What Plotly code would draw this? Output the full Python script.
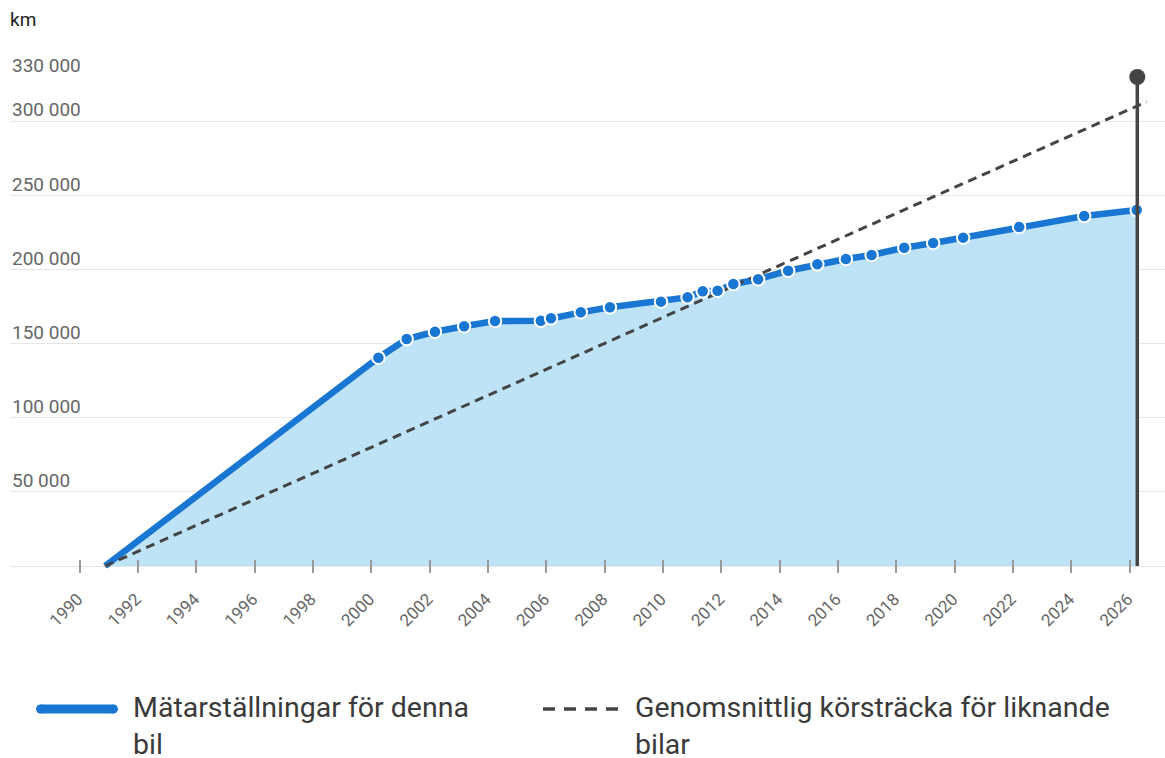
import plotly.graph_objects as go

# ---------------- data ----------------
reading_years = [1990.87, 2000.24, 2001.21, 2002.18, 2003.18, 2004.24, 2005.81, 2006.16,
                 2007.18, 2008.18, 2009.93, 2010.84, 2011.36, 2011.87, 2012.41, 2013.26,
                 2014.29, 2015.29, 2016.27, 2017.15, 2018.27, 2019.26, 2020.29, 2022.21,
                 2024.44, 2026.24]
reading_km = [0, 140600, 153200, 158100, 161800, 165300, 165500, 167200,
              171200, 174600, 178400, 181300, 185400, 185800, 190300, 193500,
              199300, 203600, 207200, 209900, 214800, 218000, 221600, 228800,
              236200, 240200]

avg_years = [1990.87, 2026.58]
avg_km = [0, 313300]

today_year = 2026.26
axis_max_km = 330000

x_tickvals = list(range(1990, 2027, 2))
x_ticktext = [str(v) for v in x_tickvals]
y_tickvals = [0, 50000, 100000, 150000, 200000, 250000, 300000, 330000]
y_ticktext = ["", "50 000", "100 000", "150 000", "200 000", "250 000", "300 000", "330 000"]

legend_names = ["Mätarställningar för denna<br>bil", "Genomsnittlig körsträcka för liknande<br>bilar"]
unit_label = "km"

# ---------------- layout helpers ----------------
W, H = 1165, 758
ML, MR, MT, MB = 10, 0, 77, 185
PW, PH = W - ML - MR, H - MT - MB


def px_x(p):
    return (p - ML) / PW


def px_y(p):
    return (H - MB - p) / PH


BLUE = "#1976d2"
FILL = "#bee3f6"
DARK = "#444444"
FONT = "Roboto"

fig = go.Figure()

# area + line
fig.add_trace(go.Scatter(
    x=reading_years, y=reading_km, mode="lines",
    line=dict(color=BLUE, width=6.5), fill="tozeroy", fillcolor=FILL,
    hoverinfo="skip", showlegend=False))

# average dashed line
fig.add_trace(go.Scatter(
    x=avg_years, y=avg_km, mode="lines",
    line=dict(color=DARK, width=3, dash="9px,6px"),
    hoverinfo="skip", showlegend=False))

# reading markers (skip first start point)
fig.add_trace(go.Scatter(
    x=reading_years[1:], y=reading_km[1:], mode="markers",
    marker=dict(color=BLUE, size=12.5, line=dict(color="white", width=2)),
    hoverinfo="skip", showlegend=False))

# today vertical line
fig.add_trace(go.Scatter(
    x=[today_year, today_year], y=[0, axis_max_km], mode="lines",
    line=dict(color=DARK, width=3.5), hoverinfo="skip", showlegend=False))
fig.add_trace(go.Scatter(
    x=[today_year], y=[axis_max_km], mode="markers",
    marker=dict(color=DARK, size=16), cliponaxis=False,
    hoverinfo="skip", showlegend=False))

# ---------------- legend (manual) ----------------
shapes = []
ly = px_y(709)
shapes.append(dict(type="line", xref="paper", yref="paper",
                   x0=px_x(40.5), x1=px_x(113.5), y0=ly, y1=ly,
                   line=dict(color=BLUE, width=9)))
for cx in (40.5, 113.5):
    shapes.append(dict(type="circle", xref="paper", yref="paper",
                       xsizemode="pixel", ysizemode="pixel",
                       xanchor=px_x(cx), yanchor=ly,
                       x0=-4.5, x1=4.5, y0=-4.5, y1=4.5,
                       fillcolor=BLUE, line=dict(width=0)))
shapes.append(dict(type="line", xref="paper", yref="paper",
                   x0=px_x(543), x1=px_x(620), y0=ly, y1=ly,
                   line=dict(color=DARK, width=3.5, dash="12px,9px")))

annotations = [
    dict(text=legend_names[0], xref="paper", yref="paper", x=px_x(131), y=px_y(726),
         xanchor="left", yanchor="middle", align="left", showarrow=False,
         font=dict(family=FONT, size=28.5, color="#3a3a3a")),
    dict(text=legend_names[1], xref="paper", yref="paper", x=px_x(633), y=px_y(726),
         xanchor="left", yanchor="middle", align="left", showarrow=False,
         font=dict(family=FONT, size=28.5, color="#3a3a3a")),
    dict(text=unit_label, xref="paper", yref="paper", x=px_x(8), y=px_y(19),
         xanchor="left", yanchor="middle", showarrow=False,
         font=dict(family=FONT, size=19, color="#222222")),
]

# y tick labels drawn above their gridlines, at the left edge
for v, t in zip(y_tickvals, y_ticktext):
    if t:
        annotations.append(dict(text=t, xref="paper", yref="y", x=0, y=v,
                                xanchor="left", yanchor="bottom", yshift=-2,
                                showarrow=False,
                                font=dict(family=FONT, size=19, color="#666666")))

fig.update_layout(
    width=W, height=H,
    margin=dict(l=ML, r=MR, t=MT, b=MB, pad=0, autoexpand=False),
    paper_bgcolor="white", plot_bgcolor="white",
    font=dict(family=FONT),
    showlegend=False,
    shapes=shapes, annotations=annotations,
    xaxis=dict(range=[1987.61, 2027.21], tickvals=x_tickvals, ticktext=x_ticktext,
               tickangle=-45, tickfont=dict(size=17, color="#666666"),
               ticklabelstandoff=12, ticklabelshift=-2,
               ticks="inside", ticklen=13, tickwidth=1.5, tickcolor="#999999",
               showgrid=False, zeroline=False, showline=False, automargin=False),
    yaxis=dict(range=[-4700, 330000], tickvals=y_tickvals, showticklabels=False,
               showgrid=True, gridcolor="#e6e6e6", gridwidth=1,
               zeroline=False, showline=False, ticks="", automargin=False),
)

fig.write_html("out.html", config={"displayModeBar": False},
               post_script="document.body.style.margin='0px';")
